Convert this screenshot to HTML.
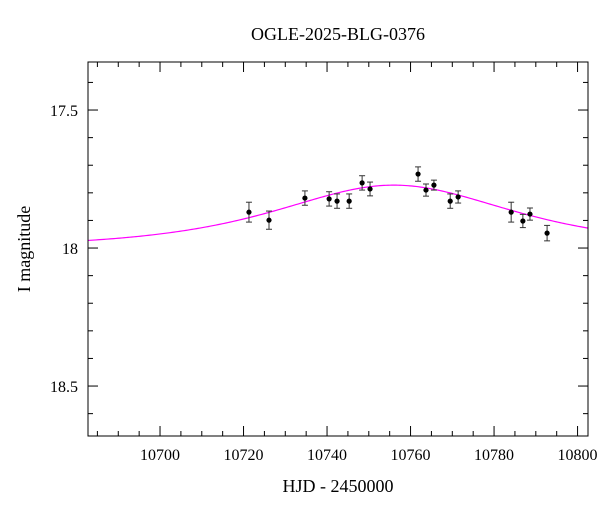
<!DOCTYPE html>
<html><head><meta charset="utf-8"><style>
body{margin:0;background:#fff}
svg text{font-family:"Liberation Serif",serif;fill:#000}
</style></head><body>
<svg id="chart" width="600" height="512" xmlns="http://www.w3.org/2000/svg">
<text x="338" y="40" font-size="18" text-anchor="middle">OGLE-2025-BLG-0376</text>
<text x="338" y="492" font-size="18" text-anchor="middle">HJD - 2450000</text>
<text transform="translate(30,249) rotate(-90)" font-size="18" text-anchor="middle">I magnitude</text>
<g id="ticks"></g><g id="curve"></g><g id="pts"></g>
<rect x="88" y="62" width="500" height="374" fill="none" stroke="#000" stroke-width="1"/>
</svg>
<script>
const hjd=[10721.3,10726.1,10734.7,10740.5,10742.4,10745.3,10748.4,10750.3,10761.8,10763.7,10765.6,10769.5,10771.4,10784.1,10786.9,10788.6,10792.7];
const mag=[17.870,17.899,17.819,17.822,17.830,17.830,17.764,17.786,17.732,17.790,17.772,17.830,17.815,17.870,17.902,17.877,17.946];
const err=[0.036,0.033,0.026,0.026,0.026,0.026,0.026,0.025,0.026,0.022,0.018,0.026,0.022,0.036,0.024,0.022,0.028];
const xTicks=[10700,10720,10740,10760,10780,10800];
const yTicks=[17.5,18,18.5];
const model={t0:10756,tE:31,u0:1.19,base:18.0};
const X0=88,X1=588,Y0=62,Y1=436,xmin=10682.75,xmax=10802.5,ymin=17.326,ymax=18.681;
const sx=v=>X0+(v-xmin)/(xmax-xmin)*(X1-X0);
const sy=v=>Y0+(v-ymin)/(ymax-ymin)*(Y1-Y0);
const NS="http://www.w3.org/2000/svg";
function mk(p,tag,a){const e=document.createElementNS(NS,tag);for(const k in a)e.setAttribute(k,a[k]);p.appendChild(e);return e;}
const tg=document.getElementById('ticks');
for(let t=10685;t<=10800;t+=5){const x=sx(t);const maj=t%20===0;const L=maj?10:5;
const a=mk(tg,'line',{x1:x,x2:x,y1:Y1,y2:Y1-L,stroke:'#000'});
const b=mk(tg,'line',{x1:x,x2:x,y1:Y0,y2:Y0+L,stroke:'#000'});}
xTicks.forEach(t=>{const e=mk(tg,'text',{x:sx(t),y:460,'font-size':16,'text-anchor':'middle'});e.textContent=t;
});
for(let k=0;k<=13;k++){const v=17.4+k*0.1;const y=sy(v);if(y<Y0||y>Y1)continue;const maj=Math.abs((v*2)-Math.round(v*2))<1e-6;const L=maj?10:5;
const a=mk(tg,'line',{x1:X0,x2:X0+L,y1:y,y2:y,stroke:'#000'});
const b=mk(tg,'line',{x1:X1,x2:X1-L,y1:y,y2:y,stroke:'#000'});}
yTicks.forEach(v=>{const e=mk(tg,'text',{x:78,y:sy(v)+6,'font-size':16,'text-anchor':'end'});e.textContent=String(v);
});
let d='';for(let px=X0;px<=X1;px+=2){const t=xmin+(px-X0)/(X1-X0)*(xmax-xmin);const tau=(t-model.t0)/model.tE;const u=Math.sqrt(tau*tau+model.u0*model.u0);
const A=(u*u+2)/(u*Math.sqrt(u*u+4));const m=model.base-2.5*Math.log10(A);d+=(d?'L':'M')+px+','+sy(m).toFixed(2);}
const c=mk(document.getElementById('curve'),'path',{d:d,fill:'none',stroke:'#f0f','stroke-width':1.2});

const pg=document.getElementById('pts');
hjd.forEach((t,i)=>{const x=sx(t),y=sy(mag[i]),ya=sy(mag[i]-err[i]),yb=sy(mag[i]+err[i]);
const g=mk(pg,'g',{});
mk(g,'line',{x1:x,x2:x,y1:ya,y2:yb,stroke:'#333'});
mk(g,'line',{x1:x-3,x2:x+3,y1:ya,y2:ya,stroke:'#333'});
mk(g,'line',{x1:x-3,x2:x+3,y1:yb,y2:yb,stroke:'#333'});
mk(g,'circle',{cx:x,cy:y,r:2.6,fill:'#000'});});
</script>
</body></html>
